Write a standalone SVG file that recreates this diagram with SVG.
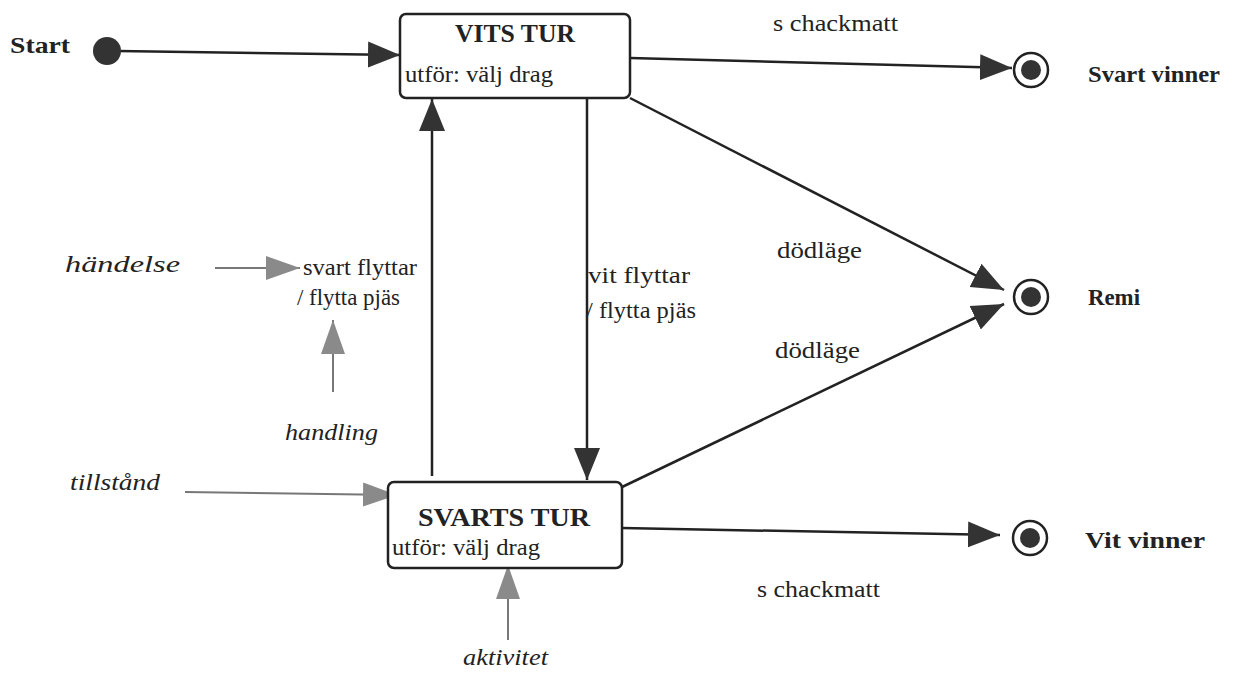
<svg xmlns="http://www.w3.org/2000/svg" width="1258" height="683" viewBox="0 0 1258 683">
<style>
.t{font-family:"Liberation Serif","Times New Roman",serif;fill:#222;font-size:23px}
.b{font-weight:bold;font-size:24px}
.h{font-weight:bold;font-size:25px}
.i{font-style:italic}
.box{fill:#fff;stroke:#222;stroke-width:2.5}
.ln{stroke:#222;stroke-width:2.5;fill:none}
.gl{stroke:#777;stroke-width:2;fill:none}
.fin{fill:#fff;stroke:#222;stroke-width:2.5}
</style>
<defs>
<marker id="ah" markerUnits="userSpaceOnUse" markerWidth="34" markerHeight="28" refX="32" refY="14" orient="auto">
<path d="M0,1 L32,14 L0,27 Z" fill="#333"/>
</marker>
<marker id="gh" markerUnits="userSpaceOnUse" markerWidth="36" markerHeight="28" refX="34" refY="14" orient="auto">
<path d="M0,2 L34,14 L0,26 Z" fill="#8a8a8a"/>
</marker>
</defs>
<rect width="1258" height="683" fill="#fff"/>
<g id="connectors">
<line class="ln" x1="118" y1="51" x2="400" y2="55" marker-end="url(#ah)"/>
<line class="ln" x1="630" y1="58" x2="1012" y2="68" marker-end="url(#ah)"/>
<line class="ln" x1="630" y1="98" x2="1004" y2="290" marker-end="url(#ah)"/>
<line class="ln" x1="620" y1="488" x2="1004" y2="304" marker-end="url(#ah)"/>
<line class="ln" x1="432" y1="476" x2="432" y2="99" marker-end="url(#ah)"/>
<line class="ln" x1="587" y1="99" x2="587" y2="480" marker-end="url(#ah)"/>
<line class="ln" x1="622" y1="528" x2="1000" y2="535" marker-end="url(#ah)"/>
<line class="gl" x1="215" y1="268" x2="300" y2="268" marker-end="url(#gh)"/>
<line class="gl" x1="333" y1="392" x2="333" y2="320" marker-end="url(#gh)"/>
<line class="gl" x1="185" y1="492" x2="397" y2="495" marker-end="url(#gh)"/>
<line class="gl" x1="508" y1="640" x2="508" y2="565" marker-end="url(#gh)"/>
<text class="t" x="773" y="31" textLength="125" lengthAdjust="spacingAndGlyphs">s chackmatt</text>
<text class="t" x="757" y="597" textLength="123" lengthAdjust="spacingAndGlyphs">s chackmatt</text>
<text class="t" x="777" y="258" textLength="85" lengthAdjust="spacingAndGlyphs">dödläge</text>
<text class="t" x="775" y="358" textLength="85" lengthAdjust="spacingAndGlyphs">dödläge</text>
<text class="t" x="588" y="283" textLength="102" lengthAdjust="spacingAndGlyphs">vit flyttar</text>
<text class="t" x="586" y="318" textLength="110" lengthAdjust="spacingAndGlyphs">/ flytta pjäs</text>
<text class="t" x="303" y="275" textLength="114" lengthAdjust="spacingAndGlyphs">svart flyttar</text>
<text class="t" x="297" y="305" textLength="103" lengthAdjust="spacingAndGlyphs">/ flytta pjäs</text>
</g>
<g id="start">
<circle cx="107" cy="51" r="14" fill="#333"/>
<text class="t b" x="10" y="53" textLength="60" lengthAdjust="spacingAndGlyphs">Start</text>
</g>
<g id="vits-tur">
<rect class="box" x="400" y="14" width="230" height="84" rx="6"/>
<text class="t h" x="455" y="42" textLength="120" lengthAdjust="spacingAndGlyphs">VITS TUR</text>
<text class="t" x="405" y="82" textLength="148" lengthAdjust="spacingAndGlyphs">utför: välj drag</text>
</g>
<g id="svarts-tur">
<rect class="box" x="388" y="482" width="234" height="86" rx="6"/>
<text class="t h" x="418" y="526" textLength="172" lengthAdjust="spacingAndGlyphs">SVARTS TUR</text>
<text class="t" x="392" y="555" textLength="148" lengthAdjust="spacingAndGlyphs">utför: välj drag</text>
</g>
<g id="svart-vinner">
<circle class="fin" cx="1031" cy="70" r="17"/>
<circle cx="1031" cy="70" r="10" fill="#333"/>
<text class="t b" x="1088" y="82" textLength="132" lengthAdjust="spacingAndGlyphs">Svart vinner</text>
</g>
<g id="remi">
<circle class="fin" cx="1031" cy="297" r="17"/>
<circle cx="1031" cy="297" r="10" fill="#333"/>
<text class="t b" x="1088" y="305" textLength="52" lengthAdjust="spacingAndGlyphs">Remi</text>
</g>
<g id="vit-vinner">
<circle class="fin" cx="1030" cy="538" r="17"/>
<circle cx="1030" cy="538" r="10" fill="#333"/>
<text class="t b" x="1085" y="548" textLength="120" lengthAdjust="spacingAndGlyphs">Vit vinner</text>
</g>
<g id="annotations">
<text class="t i" x="65" y="272" textLength="115" lengthAdjust="spacingAndGlyphs">händelse</text>
<text class="t i" x="285" y="440" textLength="93" lengthAdjust="spacingAndGlyphs">handling</text>
<text class="t i" x="70" y="490" textLength="90" lengthAdjust="spacingAndGlyphs">tillstånd</text>
<text class="t i" x="463" y="665" textLength="85" lengthAdjust="spacingAndGlyphs">aktivitet</text>
</g>
</svg>
